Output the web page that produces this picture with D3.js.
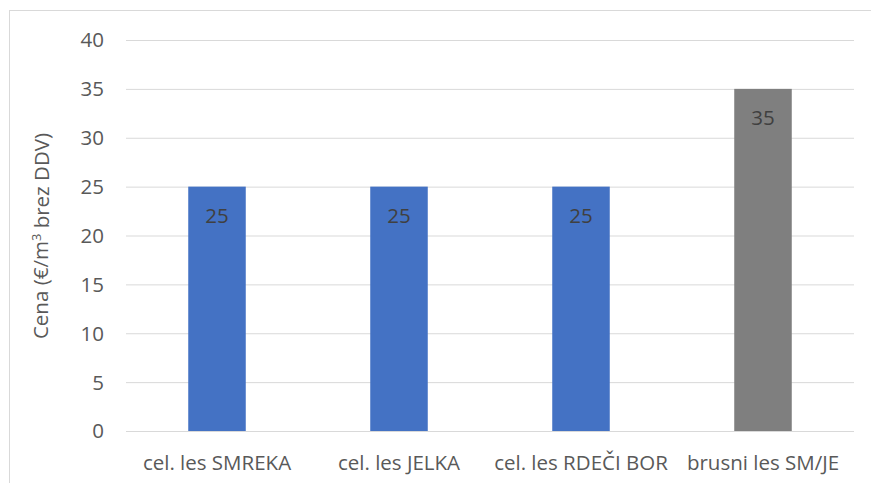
<!DOCTYPE html>
<html>
<head>
<meta charset="utf-8">
<script src="https://cdn.jsdelivr.net/npm/d3@7"></script>
<style>
  body { margin: 0; background: #fff; }
  svg { font-family: "Open Sans", "Noto Sans", sans-serif; }
</style>
</head>
<body>
<svg width="871" height="483"></svg>
<script>
var categories = ["cel. les SMREKA", "cel. les JELKA", "cel. les RDEČI BOR", "brusni les SM/JE"];
var values = [25, 25, 25, 35];
var colors = ["#4472c4", "#4472c4", "#4472c4", "#7f7f7f"];
var yTicks = [0, 5, 10, 15, 20, 25, 30, 35, 40];

var svg = d3.select("svg");
var fs = 20.5;

// chart frame, cut off on the right and bottom like the screenshot
svg.append("rect")
    .attr("x", 9.5).attr("y", 10.5)
    .attr("width", 900).attr("height", 500)
    .attr("fill", "none")
    .attr("stroke", "#d9d9d9");

var x = d3.scaleBand().domain(categories).range([126, 854]);
var y = d3.scaleLinear().domain([0, 40]).range([431, 40]);

// gridlines
svg.append("g").selectAll("line")
    .data(yTicks)
    .join("line")
    .attr("x1", 126).attr("x2", 854)
    .attr("y1", d => y(d) + 0.5).attr("y2", d => y(d) + 0.5)
    .attr("stroke", "#d9d9d9");

// y tick labels
svg.append("g").selectAll("text")
    .data(yTicks)
    .join("text")
    .attr("x", 104)
    .attr("y", d => y(d))
    .attr("dy", "0.36em")
    .attr("text-anchor", "end")
    .attr("font-size", fs)
    .attr("fill", "#595959")
    .text(d => d);

var bw = x.bandwidth() * 0.316;

svg.append("g").selectAll("rect")
    .data(values)
    .join("rect")
    .attr("x", (d, i) => x(categories[i]) + x.bandwidth() / 2 - bw / 2)
    .attr("y", d => y(d))
    .attr("width", bw)
    .attr("height", d => y(0) - y(d))
    .attr("fill", (d, i) => colors[i]);

// bar labels inside top
svg.append("g").selectAll("text")
    .data(values)
    .join("text")
    .attr("x", (d, i) => x(categories[i]) + x.bandwidth() / 2)
    .attr("y", d => y(d) + 29)
    .attr("dy", "0.36em")
    .attr("text-anchor", "middle")
    .attr("font-size", fs)
    .attr("fill", "#404040")
    .text(d => d);

// category labels
svg.append("g").selectAll("text")
    .data(categories)
    .join("text")
    .attr("x", d => x(d) + x.bandwidth() / 2)
    .attr("y", 470)
    .attr("text-anchor", "middle")
    .attr("font-size", fs)
    .attr("fill", "#595959")
    .text(d => d);

// axis title
var t = svg.append("text")
    .attr("transform", "translate(41,236) rotate(-90)")
    .attr("text-anchor", "middle")
    .attr("dy", "0.36em")
    .attr("font-size", fs)
    .attr("fill", "#595959");
t.append("tspan").text("Cena (€/m");
t.append("tspan").attr("font-size", 13).attr("dy", "-0.6em").text("3");
t.append("tspan").attr("dy", "0.4em").text(" brez DDV)");
</script>
</body>
</html>
